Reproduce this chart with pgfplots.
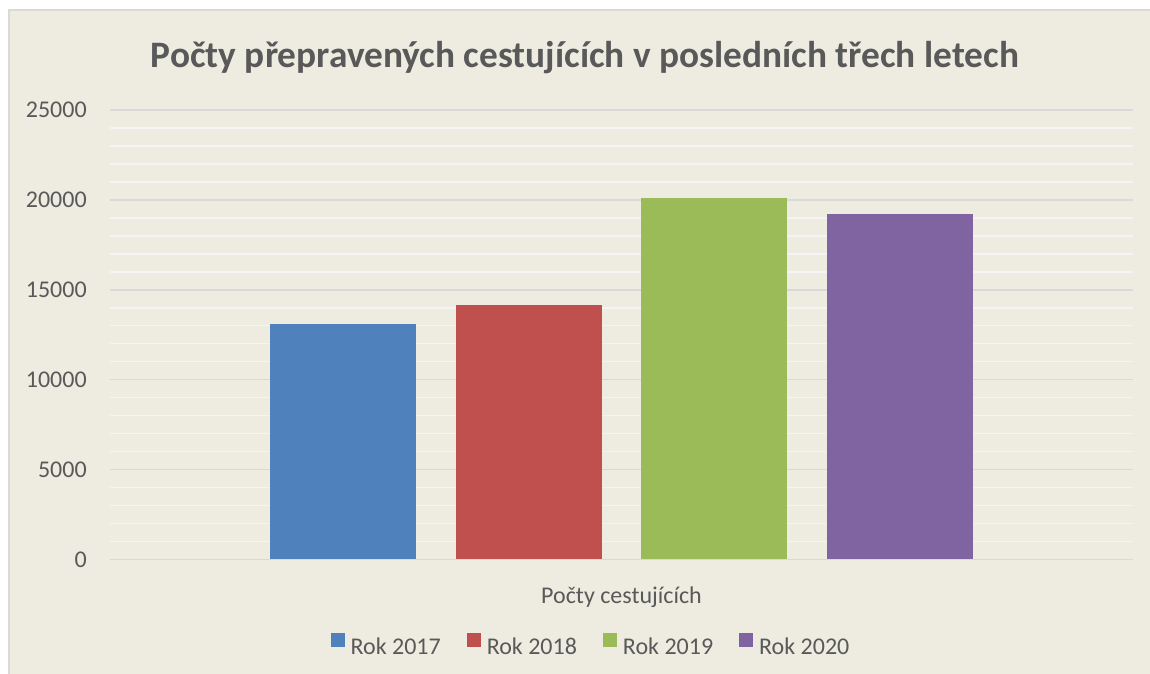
\documentclass[border=0pt]{standalone}
\usepackage{pgfplots}
\pgfplotsset{compat=1.18}
\usepackage{fontspec}
\setmainfont{Carlito}
\definecolor{bgc}{HTML}{EEECE1}
\definecolor{txt}{HTML}{595959}
\definecolor{majg}{HTML}{D9D9D9}
\definecolor{ming}{HTML}{F4F4F4}
\definecolor{c1}{HTML}{4F81BD}
\definecolor{c2}{HTML}{C0504D}
\definecolor{c3}{HTML}{9BBB59}
\definecolor{c4}{HTML}{8064A2}
\begin{document}
\begin{tikzpicture}[x=1pt,y=1pt]
% page and chart area (1px = 0.75pt; origin at plot lower-left, px (110,559.5))
\fill[white] (-82.5,-85.875) rectangle (780,419.625);
\fill[bgc] (-75.75,-85.875) rectangle (780,411.75);
\draw[majg, line width=1.5pt] (-75.75,-85.875) -- (-75.75,411.75) -- (780,411.75);
\begin{axis}[
  at={(0pt,0pt)}, anchor=south west,
  scale only axis,
  width=767.25pt, height=337.125pt,
  xmin=-1, xmax=1,
  ymin=0, ymax=25000,
  ytick={0,5000,10000,15000,20000,25000},
  minor y tick num=4,
  ymajorgrids, yminorgrids,
  major grid style={majg, line width=1.1pt},
  minor grid style={ming, line width=1.1pt},
  axis line style={draw=none},
  major tick length=0pt, minor tick length=0pt,
  tick style={draw=none},
  /pgf/number format/assume math mode=true,
  scaled y ticks=false,
  yticklabel={\pgfmathprintnumber[fixed,1000 sep={}]{\tick}},
  yticklabel style={anchor=east, inner sep=0pt, xshift=-17.25pt,
    font=\fontsize{18}{21}\selectfont, text=txt},
  xtick={0},
  xticklabels={Počty cestujících},
  xticklabel style={anchor=base, inner sep=0pt, yshift=-33.15pt,
    font=\fontsize{18}{21}\selectfont, text=txt},
  ybar=29.6pt,
  bar width=109.5pt,
  legend columns=4,
  legend style={at={(0.4692,-0.19)}, anchor=center, draw=none, fill=none,
    font=\fontsize{18}{21}\selectfont, text=txt,
    nodes={inner sep=0pt},
    /tikz/every even column/.append style={column sep=19.5pt}},
  legend cell align=left,
  legend image code/.code={\fill[#1] (0pt,0pt) rectangle (10.5pt,10.5pt); \path (15pt,0pt);},
]
\addplot[fill=c1, draw=none] coordinates {(0,13100)};
\addplot[fill=c2, draw=none] coordinates {(0,14150)};
\addplot[fill=c3, draw=none] coordinates {(0,20100)};
\addplot[fill=c4, draw=none] coordinates {(0,19200)};
\legend{Rok 2017, Rok 2018, Rok 2019, Rok 2020}
\end{axis}
\node[anchor=base, text=txt, font=\fontsize{28}{34}\selectfont\bfseries, inner sep=0pt] at (356.25,368.85) {Počty přepravených cestujících v posledních třech letech};
\pgfresetboundingbox
\useasboundingbox (-82.5,-85.875) rectangle (780,419.625);
\end{tikzpicture}
\end{document}
